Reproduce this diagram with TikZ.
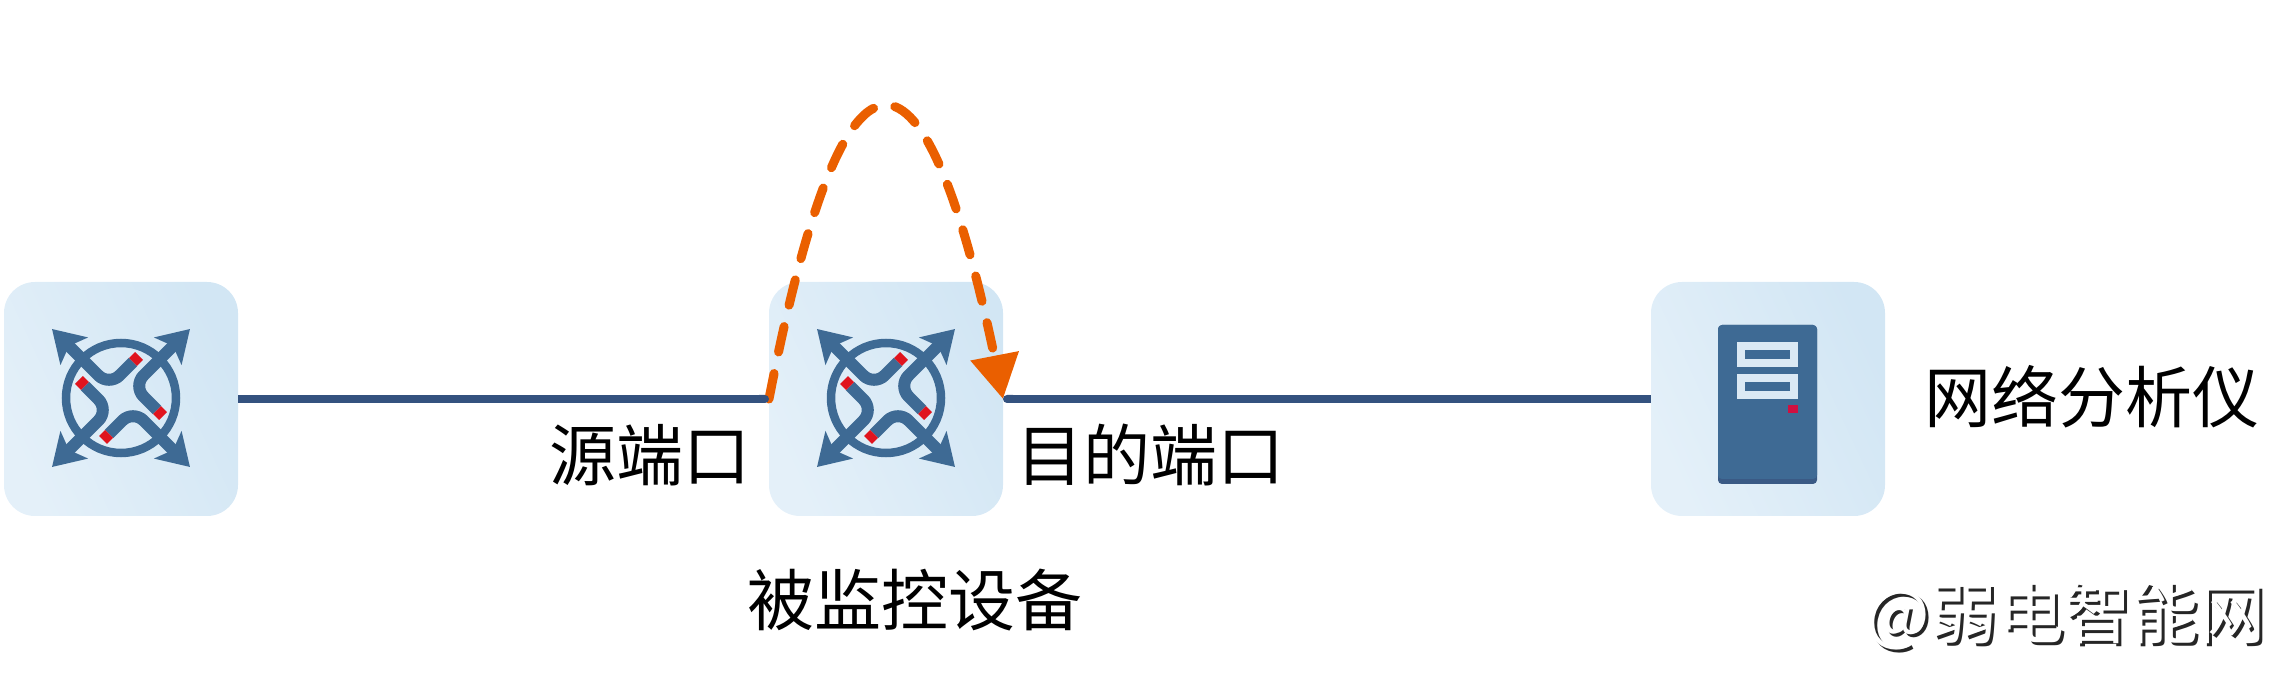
\documentclass[tikz,border=0pt]{standalone}
\usepackage{fontspec}
\setmainfont{Noto Sans CJK SC}
\usepackage{tikz}
\usetikzlibrary{arrows.meta,bending}
\definecolor{iconblue}{HTML}{3E6A94}
\definecolor{icondark}{HTML}{3A5A85}
\definecolor{linkblue}{HTML}{34527F}
\definecolor{loopcolor}{HTML}{EA5F00}
\definecolor{portred}{HTML}{E0141E}
\definecolor{ledred}{HTML}{D01040}
\definecolor{slotfill}{HTML}{DBE9F4}
\definecolor{boxlow}{HTML}{E4F0F9}
\definecolor{boxhigh}{HTML}{D2E6F4}
\newcommand*\boxsize{234pt}
\newcommand*\labelsize{\fontsize{67}{72}\selectfont}
\tikzset{
    devbox/.style   = {rounded corners=31pt, minimum size=\boxsize,
                    inner sep=0pt, outer sep=0pt,
                    bottom color=boxlow, top color=boxhigh, shading angle=-65},
    link/.style     = {draw=linkblue, line width=8pt},
    mirrorloop/.style = {draw=loopcolor, line width=9pt, line cap=round,
                    dash pattern=on 26pt off 22pt,
                    -{Triangle[length=44pt,width=47pt,flex=0,fill=loopcolor]}},
    switcharm/.style = {draw=iconblue, line width=12pt, rounded corners=15pt,
                    -{Stealth[length=31pt,width=38pt,inset=7pt,flex=0]}},
    switchport/.style = {draw=portred, line width=11pt},
    textlabel/.style = {font=\labelsize, inner sep=0pt, text=black},
    switchicon/.pic = {
        \draw[draw=iconblue, line width=8.5pt] (0,0) circle (55pt);
        \foreach \a in {0,90,180,270} {
            \draw[switcharm,rotate=\a] (12,36) -- (-12,12) -- (-69,69);
            \draw[switchport,rotate=\a] (12,36) -- (18,42);
        }
    },
}

\begin{document}
\begin{tikzpicture}[x=1pt,y=1pt]
      \useasboundingbox (0,0) rectangle (2294,675);

      % Three device boxes in one row
      \node[devbox] (swleft)  at (121,276)  {};
      \node[devbox] (swmon)   at (886,276)  {};
      \node[devbox] (analyzer) at (1768,276) {};

      % Switch icons
      \pic at (121,277) {switchicon};
      \pic at (886,277) {switchicon};

      % Analyzer server, drawn around the box centre
      \begin{scope}[shift={(analyzer.center)}]
        \fill[icondark, rounded corners=4pt] (-50,-85) rectangle (49,74);
        \fill[iconblue, rounded corners=4pt] (-50,-80) rectangle (49,74);
        \foreach \y in {32,0} {
          \fill[slotfill] (-31,\y) rectangle (30,\y+25);
          \fill[iconblue] (-23,\y+8) rectangle (22,\y+17);
        }
        \fill[ledred] (20,-14) rectangle (30,-6);
      \end{scope}

      % Mirror loop over the monitored device
      \draw[mirrorloop] (swmon.west) .. controls +(76,392) and +(-76,392) .. (swmon.east);

      % Links
      \draw[link,-{Round Cap[]}] (swleft.east) -- (swmon.west);
      \draw[link,{Round Cap[]}-] (swmon.east) -- (analyzer.west);

      % Labels
      \node[textlabel] (srcport) at (650,220) {源端口};
      \node[textlabel] (dstport) at (1150,220) {目的端口};
      \node[textlabel] (devname) at (915,75) {被监控设备};
      \node[textlabel] (anlname) at (2092,278) {网络分析仪};

      % Embossed mark at the lower right
      \node[textlabel, text=black!85] (markshade) at (2069,56) {@弱电智能网};
      \node[textlabel, text=white] (marktop) at (2066,59) {@弱电智能网};
    \end{tikzpicture}
\end{document}
